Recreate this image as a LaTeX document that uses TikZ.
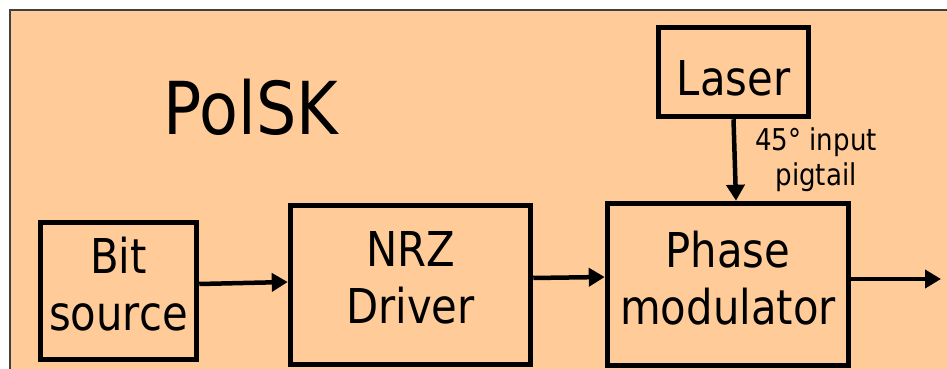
\documentclass[tikz,border=0pt]{standalone}
\usepackage{fontspec}
\setmainfont{DejaVu Sans}[FakeStretch=0.87]
\usepackage{xcolor}
\usetikzlibrary{arrows.meta,positioning,calc}
\definecolor{peach}{HTML}{FFCC99}

\begin{document}
\begin{tikzpicture}[x=1pt,y=1pt,
        blk/.style={draw,line width=5.5pt,inner sep=0pt,align=center,text depth=14pt,
                font=\fontsize{48}{57}\selectfont},
        sig/.style={-{Triangle[length=16pt,width=18pt]},line width=4.5pt}]
                \useasboundingbox (0,0) rectangle (947,369);
                \fill[white] (0,0) rectangle (947,369);
                \draw[fill=peach,draw=black!75,line width=1.2pt] (10,-5) rectangle (955,359);
                \node[anchor=base west,font=\fontsize{73}{80}\selectfont] (title) at (160,234) {PolSK};
                \node[blk,minimum width=156pt,minimum height=137pt] (bitsrc) at (118.5,78) {Bit\\source};
                \node[blk,minimum width=240pt,minimum height=159pt] (nrz) at (410.5,84) {NRZ\\Driver};
                \node[blk,minimum width=241pt,minimum height=162pt] (phmod) at (728,84.5) {Phase\\modulator};
                \node[blk,text depth=0pt,text height=48pt,minimum width=150pt,minimum height=89pt] (laser) at (733.5,297) {Laser};
                \node[align=center,inner sep=0pt,font=\fontsize{30}{35}\selectfont] (pig) at (816,209) {45° input\\pigtail};
                \coordinate (out) at (941,90);
                \draw[sig] ([yshift=7pt]bitsrc.east) -- ([yshift=3pt]nrz.west);
                \draw[sig] ([yshift=7pt]nrz.east) -- ([yshift=7.5pt]phmod.west);
                \draw[sig] ([yshift=5.5pt]phmod.east) -- (out);
                \draw[sig] (laser.south) -- ([xshift=8pt]phmod.north);
            \end{tikzpicture}
\end{document}
